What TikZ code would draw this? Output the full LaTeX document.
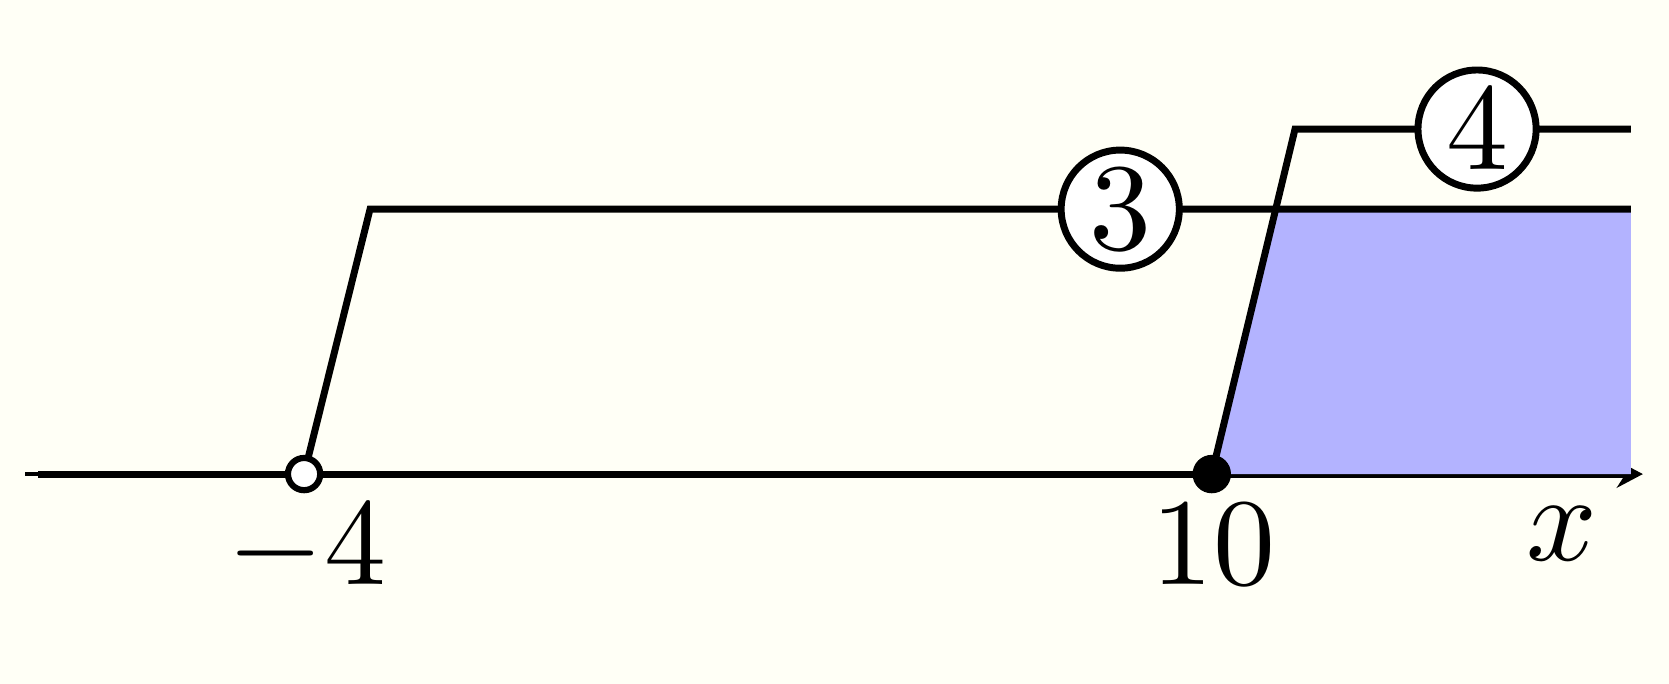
\documentclass[tikz,border=0pt]{standalone}
\usetikzlibrary{
  arrows.meta,
  calc
}
\definecolor{creamish}{RGB}{255,255,246}
\definecolor{shadeish}{RGB}{179,179,255}

\begin{document}
\begin{tikzpicture}[
  axis/.style={
    line width=0.35pt,
  },
  graph/.style={
    line width=0.56pt,
  },
  opendot/.style={
    draw,
    circle,
    fill=white,
    line width=0.5pt,
    inner sep=0pt,
    minimum size=2.6pt
  },
  fulldot/.style={
    circle,
    fill=black,
    inner sep=0pt,
    minimum size=3.1pt
  },
  tag/.style={
    draw,
    circle,
    fill=white,
    line width=0.56pt,
    inner sep=0.5pt
  },
  lbl/.style={
    anchor=base,
    inner sep=0pt
  },
  >={Stealth[length=2.1pt,width=2.2pt,inset=0.7pt]}
]

% Background
\fill[creamish] (0,0) rectangle (4.731,1.939);
\useasboundingbox (0,0) rectangle (4.731,1.939);

% Points
\coordinate (axL) at (0.071,0.595);
\coordinate (axR) at (4.657,0.595);
\coordinate (bL)  at (0.108,0.595);
\coordinate (m4)  at (0.862,0.595);
\coordinate (m10) at (3.435,0.595);
\coordinate (c3)  at (1.049,1.346);
\coordinate (e3)  at (4.623,1.346);
\coordinate (c4)  at (3.671,1.573);
\coordinate (e4)  at (4.623,1.573);
\coordinate (k)   at (intersection of m10--c4 and c3--e3);

% Axis
\draw[axis,->] (axL) -- (axR);
\draw[graph] (bL) -- (e3 |- bL);

% Shaded part
\fill[shadeish] (m10) -- (k) -- (e3) -- (e3 |- m10) -- cycle;

% Graphs
\draw[graph] (m4) -- (c3) -- node[tag,pos=0.595] (t3) {$3$} (e3);
\draw[graph] (m10) -- (c4) -- node[tag,pos=0.542] (t4) {$4$} (e4);

% Dots
\node[opendot] (dm4) at (m4) {};
\node[fulldot] (dm10) at (m10) {};

% Labels
\node[lbl] (lm4)  at ([xshift=0.008cm,yshift=-0.314cm]m4) {$-4$};
\node[lbl] (lm10) at ([xshift=0.006cm,yshift=-0.314cm]m10) {$10$};
\node[lbl] (lx)   at (4.427,0.351) {$x$};

\end{tikzpicture}
\end{document}
